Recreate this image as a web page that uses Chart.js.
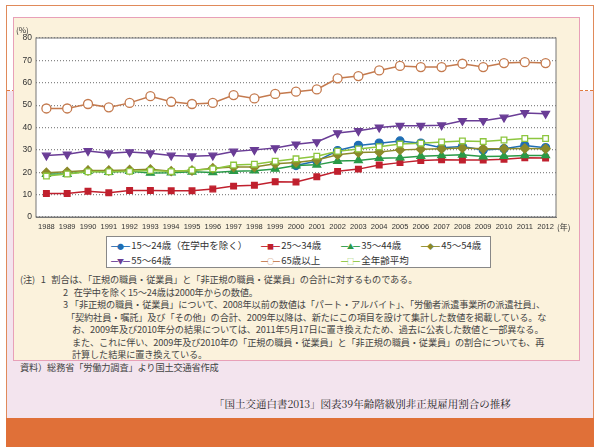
<!DOCTYPE html>
<html><head><meta charset="utf-8">
<script src="https://cdn.jsdelivr.net/npm/chart.js@4"></script>
<style>
body{margin:0;width:600px;height:447px;background:#fff;position:relative;overflow:hidden;font-family:"Noto Sans CJK JP",sans-serif;}
#frame{position:absolute;left:6px;top:5px;width:586px;height:440px;border:1px solid #e08a5a;border-bottom:none;background:#f3e4ee;}
#whiteTop{position:absolute;left:0;top:0;width:586px;height:84px;background:#fff;border-bottom:1px dashed #e07a40;}
#panel{position:absolute;left:13px;top:17px;width:565px;height:342px;background:#fbf2dc;border:1px solid #e8a0b8;}
#wrap{position:absolute;left:0;top:4px;width:565px;height:210px;}
#legend{position:absolute;left:92px;top:218px;width:385px;height:32px;border:1px solid #888;background:#fff;font-size:9.5px;color:#333;display:grid;grid-template-columns:150px 80px 80px 70px;padding:1px 4px;box-sizing:border-box;}
#legend div{white-space:nowrap;line-height:14px;}
#notes{position:absolute;left:6px;top:255px;font-size:9.2px;line-height:12.5px;color:#444;white-space:nowrap;letter-spacing:-0.15px;}
#caption{position:absolute;left:214px;top:396px;font-size:10.5px;color:#222;font-family:"Noto Serif CJK JP","Noto Sans CJK JP",serif;}
#bar{position:absolute;left:6px;top:418px;width:588px;height:29px;background:#e07038;}
.lab{position:absolute;font-size:8px;color:#333;}
</style></head><body>
<div id="frame"><div id="whiteTop"></div></div>
<div id="bar"></div>
<div id="panel">
  <div id="wrap"><canvas id="c" width="565" height="210"></canvas></div>
  <div class="lab" style="left:2px;top:6px">(%)</div>
  <div class="lab" style="left:543px;top:203px">(年)</div>
  <div id="legend"></div>
  <div id="notes">
(注)&nbsp;&nbsp;&nbsp;1&nbsp;&nbsp;&nbsp;割合は、「正規の職員・従業員」と「非正規の職員・従業員」の合計に対するものである。<br>
<span style="padding-left:43px">2&nbsp;&nbsp;&nbsp;在学中を除く15～24歳は2000年からの数値。</span><br>
<span style="padding-left:43px">3&nbsp;「非正規の職員・従業員」について、2008年以前の数値は「パート・アルバイト」、「労働者派遣事業所の派遣社員」、</span><br>
<span style="padding-left:46px">「契約社員・嘱託」及び「その他」の合計、2009年以降は、新たにこの項目を設けて集計した数値を掲載している。な</span><br>
<span style="padding-left:52px">お、2009年及び2010年分の結果については、2011年5月17日に置き換えたため、過去に公表した数値と一部異なる。</span><br>
<span style="padding-left:52px">また、これに伴い、2009年及び2010年の「正規の職員・従業員」と「非正規の職員・従業員」の割合についても、再</span><br>
<span style="padding-left:52px">計算した結果に置き換えている。</span><br>
資料）総務省「労働力調査」より国土交通省作成
  </div>
</div>
<div id="caption">「国土交通白書2013」図表39年齢階級別非正規雇用割合の推移</div>
<script>
const years = ['1988','1989','1990','1991','1992','1993','1994','1995','1996','1997','1998','1999','2000','2001','2002','2003','2004','2005','2006','2007','2008','2009','2010','2011','2012'];
const age15_24 = [null,null,null,null,null,null,null,null,null,null,null,null,23,25,29.7,32,33,34,33,31,31.5,30,30.5,32,31];
const age25_34 = [10.5,10.5,11.5,10.8,11.8,11.8,11.7,11.7,12.5,13.8,14.2,15.8,15.6,18,20.4,21.4,23.2,24.3,25.2,25.6,25.5,25.5,25.8,26.5,26.4];
const age35_44 = [19.2,19.2,20.5,20.1,20.5,19.7,19.8,20.2,19.9,20.5,20.7,21.5,23,23.3,25,25.3,26.3,26.5,27.2,27.5,27.8,27,27.2,27.5,27.5];
const age45_54 = [19.8,20.2,20.8,20.8,21,21.3,20.5,20.8,21.8,22.3,22.3,23.8,24.4,25.5,27.8,28.8,29,30,30.3,30.5,30.8,30.5,30.5,30.6,30.5];
const age55_64 = [27.5,28,29.5,28.5,29,28.5,27.5,27.2,27.5,29.3,30,30.8,32.5,33.5,37.5,38.5,40,40.8,40.8,41,43,43,44.5,46.5,46.2];
const age65plus = [48.5,48.5,50.5,49,51,54,51.5,50.5,51,54.5,53,55,56,57,62,63,65.5,67.5,67,67,68.5,67,68.8,69.2,68.8];
const allAges = [18.3,19.2,20.2,20.2,20.4,20.8,20.3,20.9,21.5,23.2,23.6,24.9,26,27.2,29.4,30.4,31.4,32.6,33,33.5,34,33.7,34.4,35.1,35.1];
const yTicks = [0,10,20,30,40,50,60,70,80];

const series = [
  {label:'15～24歳（在学中を除く）', data:age15_24, color:'#1f6eb4', style:'circle', fill:true, r:4, sym:'●'},
  {label:'25～34歳', data:age25_34, color:'#c0202e', style:'rect', fill:true, r:4, sym:'■'},
  {label:'35～44歳', data:age35_44, color:'#2a9a48', style:'triangle', fill:true, r:4.5, sym:'▲'},
  {label:'45～54歳', data:age45_54, color:'#8b8a2a', style:'rectRot', fill:true, r:4.5, sym:'◆'},
  {label:'55～64歳', data:age55_64, color:'#6a3d96', style:'triangle', fill:true, r:4.5, rot:180, sym:'▼'},
  {label:'65歳以上', data:age65plus, color:'#c47a4e', style:'circle', fill:false, r:4.5, sym:'○'},
  {label:'全年齢平均', data:allAges, color:'#8dc63f', style:'rect', fill:false, r:4, sym:'□'}
];
// draw order: back to front roughly as in picture
const order = [6,3,2,1,0,4,5];

const legend = document.getElementById('legend');
series.forEach(s => {
  const d = document.createElement('div');
  d.innerHTML = `<span style="color:${s.color};font-size:7px;letter-spacing:-1px">━${s.sym}━</span> ${s.label}`;
  legend.appendChild(d);
});

new Chart(document.getElementById('c'), {
  type: 'line',
  data: {
    labels: years,
    datasets: order.map(i => {
      const s = series[i];
      return {
        label: s.label, data: s.data, borderColor: s.color, borderWidth: 1.5,
        pointStyle: s.style, pointRadius: s.r, pointRotation: s.rot || 0,
        pointBackgroundColor: s.fill ? s.color : '#fff', pointBorderColor: s.color,
        pointBorderWidth: 1.3, tension: 0, spanGaps: false
      };
    })
  },
  options: {
    animation: false, responsive: false,
    layout: {padding: {top: 16, right: 23, left: 0, bottom: 0}},
    plugins: {legend: {display: false}, tooltip: {enabled: false}},
    scales: {
      x: {
        offset: true,
        grid: {display: false, drawTicks: true, tickLength: 4, tickColor: '#555'},
        border: {color: '#777'},
        ticks: {font: {size: 7.5, family: 'Liberation Sans Narrow, Liberation Sans'}, color: '#333', maxRotation: 0, autoSkip: false, padding: 1}
      },
      y: {
        min: 0, max: 80,
        afterBuildTicks: ax => { ax.ticks = yTicks.map(v => ({value: v})); },
        afterFit: ax => { ax.width = 22; },
        grid: {color: '#888', drawTicks: false, lineWidth: 1.2},
        border: {display: false, dash: [1, 2]},
        ticks: {font: {size: 8.5}, color: '#333', padding: 4}
      }
    }
  },
  plugins: [{
    id: 'frameBox',
    beforeDraw(chart) {
      const {ctx, chartArea: a} = chart;
      ctx.save();
      ctx.fillStyle = '#fff';
      ctx.fillRect(a.left, a.top, a.right - a.left, a.bottom - a.top);
      ctx.restore();
    },
    afterDraw(chart) {
      const {ctx, chartArea: a} = chart;
      ctx.save();
      ctx.strokeStyle = '#777';
      ctx.strokeRect(a.left, a.top, a.right - a.left, a.bottom - a.top);
      ctx.restore();
    }
  }]
});
</script>
</body></html>
